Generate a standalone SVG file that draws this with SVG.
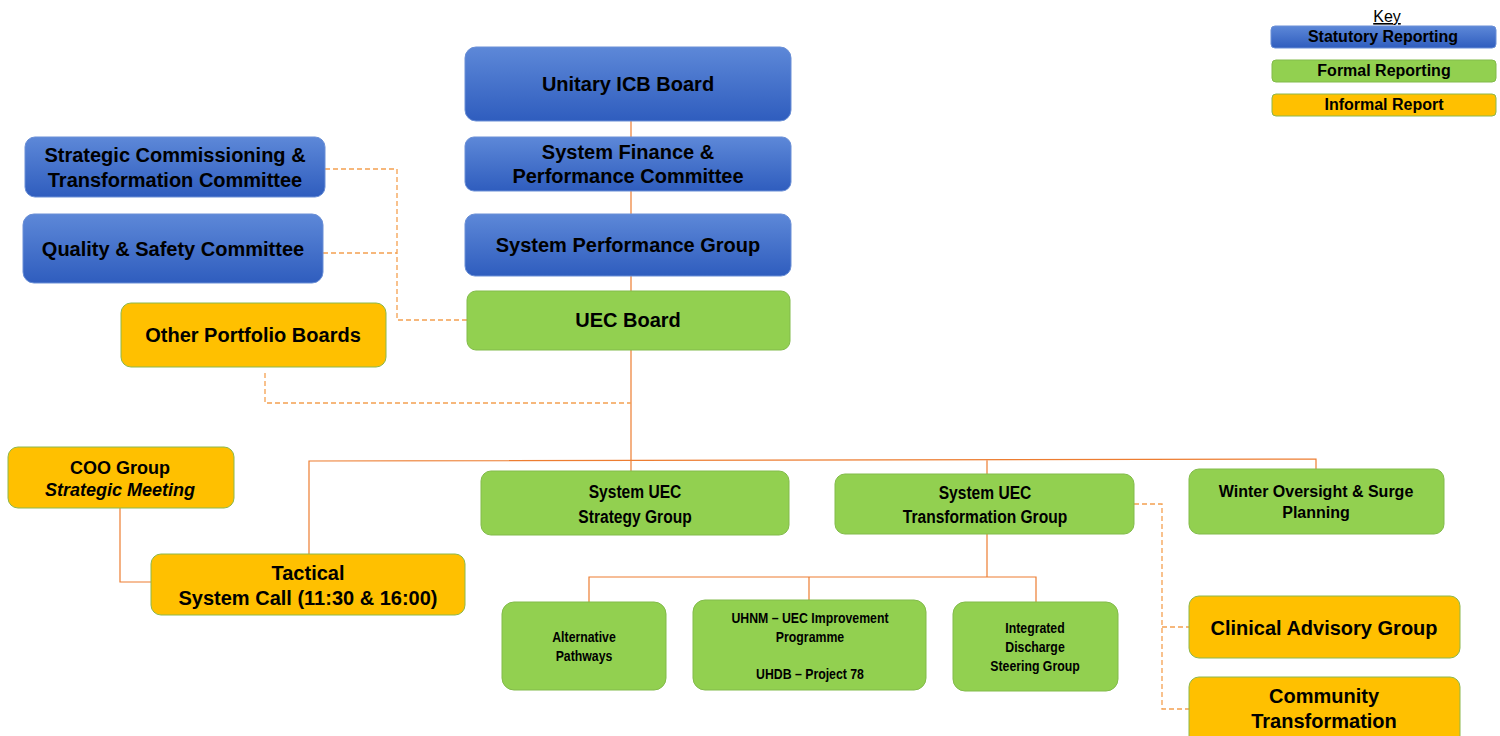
<svg xmlns="http://www.w3.org/2000/svg" width="1500" height="736" viewBox="0 0 1500 736">
<defs>
<linearGradient id="blue" x1="0" y1="0" x2="0" y2="1">
<stop offset="0" stop-color="#5D88D8"/>
<stop offset="1" stop-color="#2F5DBE"/>
</linearGradient>
<style>
.b{fill:url(#blue);stroke:#6A8FD6;stroke-width:1}
.g{fill:#92D050;stroke:#82BB4A;stroke-width:1}
.o{fill:#FFC000;stroke:#8CB84C;stroke-width:1}
text{font-family:"Liberation Sans",Arial,sans-serif;font-weight:bold;fill:#000;text-anchor:middle}
.t20{font-size:20px}
.t18{font-size:18px}
.t16{font-size:16px}
.n19{font-size:19px}
.n15{font-size:15px}
.s{fill:none;stroke:#ED7D31;stroke-width:1.2}
.d{fill:none;stroke:#F4A050;stroke-width:1.3;stroke-dasharray:5,3}
</style>
</defs>
<rect width="1500" height="736" fill="#fff"/>

<g id="connectors">
<path class="s" d="M631 121V137M631 191V214M631 276V291M631 350V471"/>
<path class="s" d="M309 554V461L1316 459V469M987 460V474"/>
<path class="s" d="M120 508V582H151"/>
<path class="s" d="M987 534V577M589 602V577H1036V602M809 577V600"/>
<path class="d" d="M325 169H397V320H467M323 253H397"/>
<path class="d" d="M265 373V403H631"/>
<path class="d" d="M1134 504H1162V709H1189M1162 627H1189"/>
</g>

<g id="key">
<text x="1387" y="22" style="font-weight:normal;font-size:16px;text-decoration:underline">Key</text>
<rect class="b" x="1271" y="26" width="225" height="22" rx="4"/>
<text class="t16" x="1383" y="42">Statutory Reporting</text>
<rect class="g" x="1272" y="60" width="224" height="22" rx="4"/>
<text class="t16" x="1384" y="76">Formal Reporting</text>
<rect class="o" x="1272" y="94" width="224" height="22" rx="4"/>
<text class="t16" x="1384" y="110">Informal Report</text>
</g>

<g id="icb-board">
<rect class="b" x="465" y="47" width="326" height="74" rx="11"/>
<text class="t20" x="628" y="91">Unitary ICB Board</text>
</g>
<g id="finance">
<rect class="b" x="465" y="137" width="326" height="54" rx="9"/>
<text class="t20" x="628" y="159">System Finance &amp;</text>
<text class="t20" x="628" y="183">Performance Committee</text>
</g>
<g id="performance">
<rect class="b" x="465" y="214" width="326" height="62" rx="10"/>
<text class="t20" x="628" y="252">System Performance Group</text>
</g>
<g id="uec-board">
<rect class="g" x="467" y="291" width="323" height="59" rx="9"/>
<text class="t20" x="628" y="327">UEC Board</text>
</g>
<g id="strategic">
<rect class="b" x="25" y="137" width="300" height="60" rx="10"/>
<text class="t20" x="175" y="162">Strategic Commissioning &amp;</text>
<text class="t20" x="175" y="187">Transformation Committee</text>
</g>
<g id="quality">
<rect class="b" x="23" y="214" width="300" height="69" rx="11"/>
<text class="t20" x="173" y="256">Quality &amp; Safety Committee</text>
</g>
<g id="other">
<rect class="o" x="121" y="303" width="265" height="64" rx="10"/>
<text class="t20" x="253" y="342">Other Portfolio Boards</text>
</g>
<g id="coo">
<rect class="o" x="8" y="447" width="226" height="61" rx="10"/>
<text class="t18" x="120" y="474">COO Group</text>
<text class="t18" x="120" y="496" style="font-style:italic">Strategic Meeting</text>
</g>
<g id="tactical">
<rect class="o" x="151" y="554" width="314" height="61" rx="10"/>
<text class="t20" x="308" y="580">Tactical</text>
<text class="t20" x="308" y="605">System Call (11:30 &amp; 16:00)</text>
</g>
<g id="strategy-group">
<rect class="g" x="481" y="471" width="308" height="64" rx="10"/>
<g transform="translate(635 0) scale(0.82 1)">
<text class="n19" x="0" y="498">System UEC</text>
<text class="n19" x="0" y="523">Strategy Group</text>
</g>
</g>
<g id="transformation-group">
<rect class="g" x="835" y="474" width="299" height="60" rx="10"/>
<g transform="translate(985 0) scale(0.82 1)">
<text class="n19" x="0" y="499">System UEC</text>
<text class="n19" x="0" y="523">Transformation Group</text>
</g>
</g>
<g id="winter">
<rect class="g" x="1189" y="469" width="255" height="65" rx="10"/>
<text class="t16" x="1316" y="497">Winter Oversight &amp; Surge</text>
<text class="t16" x="1316" y="518">Planning</text>
</g>
<g id="alternative">
<rect class="g" x="502" y="602" width="164" height="88" rx="12"/>
<g transform="translate(584 0) scale(0.82 1)">
<text class="n15" x="0" y="642">Alternative</text>
<text class="n15" x="0" y="661">Pathways</text>
</g>
</g>
<g id="uhnm">
<rect class="g" x="693" y="600" width="233" height="90" rx="12"/>
<g transform="translate(810 0) scale(0.82 1)">
<text class="n15" x="0" y="623">UHNM – UEC Improvement</text>
<text class="n15" x="0" y="642">Programme</text>
<text class="n15" x="0" y="679">UHDB – Project 78</text>
</g>
</g>
<g id="discharge">
<rect class="g" x="953" y="602" width="165" height="89" rx="12"/>
<g transform="translate(1035 0) scale(0.82 1)">
<text class="n15" x="0" y="633">Integrated</text>
<text class="n15" x="0" y="652">Discharge</text>
<text class="n15" x="0" y="671">Steering Group</text>
</g>
</g>
<g id="clinical">
<rect class="o" x="1189" y="596" width="271" height="62" rx="10"/>
<text class="t20" x="1324" y="635">Clinical Advisory Group</text>
</g>
<g id="community">
<rect class="o" x="1189" y="677" width="271" height="70" rx="10"/>
<text class="t20" x="1324" y="703">Community</text>
<text class="t20" x="1324" y="728">Transformation</text>
</g>
</svg>
